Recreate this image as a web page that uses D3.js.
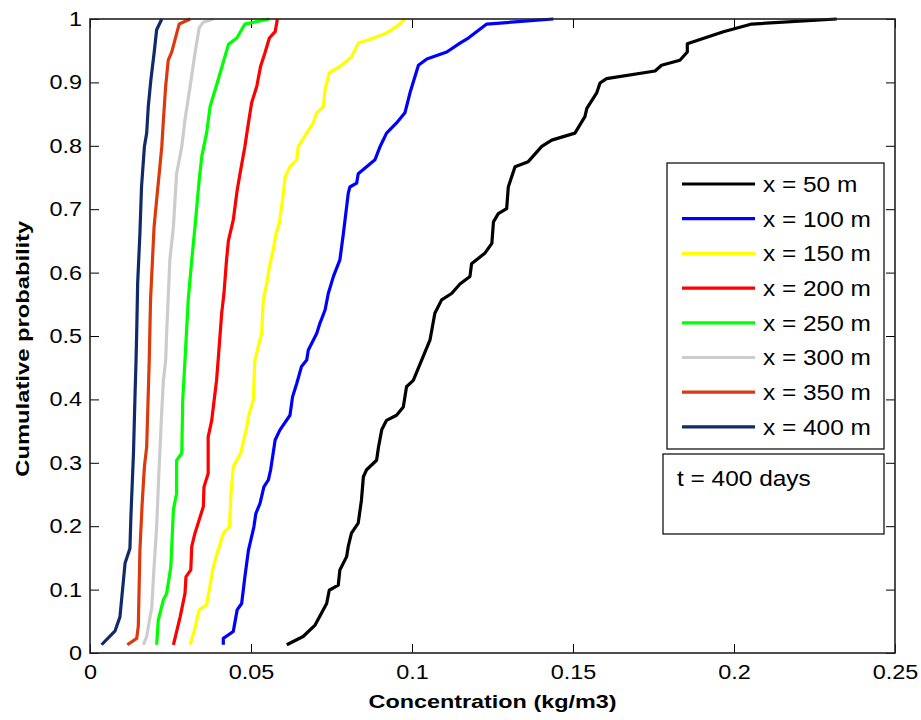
<!DOCTYPE html>
<html>
<head>
<meta charset="utf-8">
<script src="https://cdn.jsdelivr.net/npm/d3@7/dist/d3.min.js"></script>
<style>
  html, body { margin: 0; width: 100%; height: 100%; overflow: hidden; background: #fff; }
  svg { display: block; }
  text { font-family: Arial, "Liberation Sans", sans-serif; fill: #000; }
</style>
</head>
<body>
<svg id="cdf_svg" width="100%" height="100%" viewBox="0 0 921 720"></svg>
<script>
// [concentration, cumulative probability]
const s50 = [[.0611,.013],[.0662,.026],[.0699,.044],[.0735,.078],[.0743,.099],[.0771,.107],[.0776,.131],[.0797,.152],[.0802,.168],[.0812,.189],[.0833,.205],[.0843,.241],[.0849,.278],[.0859,.289],[.089,.304],[.0896,.325],[.0906,.352],[.0921,.367],[.0952,.375],[.0973,.388],[.0983,.42],[.1004,.43],[.103,.462],[.1056,.494],[.1071,.536],[.1092,.557],[.1123,.567],[.1149,.582],[.118,.594],[.1185,.614],[.1227,.631],[.1248,.646],[.1253,.68],[.1268,.693],[.1294,.701],[.1299,.735],[.132,.767],[.1361,.775],[.1403,.799],[.1434,.809],[.1506,.82],[.1537,.846],[.1543,.859],[.1574,.884],[.1584,.899],[.1604,.906],[.1755,.918],[.1775,.927],[.1832,.935],[.1855,.948],[.1855,.961],[.1967,.98],[.2055,.992],[.2319,1]];
const s100 = [[.0414,.013],[.0414,.023],[.0445,.034],[.0457,.068],[.0471,.078],[.0481,.12],[.0492,.162],[.0509,.199],[.0515,.22],[.0528,.236],[.054,.262],[.0554,.273],[.0561,.289],[.0575,.336],[.059,.352],[.0621,.375],[.0629,.404],[.0642,.425],[.0657,.452],[.0673,.462],[.0678,.478],[.0704,.504],[.0714,.52],[.073,.541],[.074,.567],[.0756,.594],[.0776,.62],[.0787,.662],[.0802,.725],[.0807,.735],[.0828,.741],[.0833,.756],[.0885,.778],[.0901,.799],[.0921,.82],[.0952,.836],[.0978,.852],[.0994,.884],[.102,.927],[.1046,.937],[.1108,.948],[.1149,.962],[.1175,.97],[.1232,.992],[.1439,1]];
const s150 = [[.0311,.013],[.0324,.035],[.0339,.068],[.0362,.076],[.0383,.136],[.0398,.162],[.0414,.189],[.0433,.199],[.0438,.252],[.0445,.294],[.0468,.315],[.0487,.357],[.0492,.373],[.0507,.399],[.0512,.462],[.0533,.504],[.0538,.557],[.0549,.583],[.0557,.609],[.0569,.636],[.0578,.662],[.0588,.678],[.0598,.715],[.0606,.751],[.0621,.767],[.0642,.778],[.0647,.799],[.0693,.836],[.0704,.852],[.0725,.862],[.073,.889],[.0743,.915],[.0781,.927],[.0812,.94],[.0833,.962],[.0864,.967],[.0921,.978],[.0952,.988],[.0978,1]];
const s200 = [[.0259,.013],[.028,.057],[.0295,.094],[.0298,.12],[.0313,.131],[.0316,.168],[.0326,.189],[.0352,.231],[.0354,.262],[.0367,.283],[.0367,.341],[.0378,.367],[.0383,.388],[.0393,.43],[.0398,.462],[.0409,.536],[.0416,.567],[.0424,.62],[.043,.651],[.0445,.683],[.0457,.73],[.0468,.762],[.0481,.799],[.0492,.836],[.0502,.868],[.0518,.894],[.053,.926],[.0543,.946],[.0557,.97],[.0575,.98],[.0582,1]];
const s250 = [[.0207,.013],[.0212,.052],[.0228,.084],[.0238,.094],[.0251,.136],[.0259,.226],[.0269,.252],[.0269,.304],[.0285,.315],[.0288,.399],[.0295,.462],[.0305,.557],[.0316,.62],[.0326,.672],[.0339,.746],[.0347,.783],[.0362,.82],[.0373,.862],[.0395,.899],[.043,.96],[.0456,.97],[.0481,.992],[.0557,1]];
const s300 = [[.0166,.013],[.0176,.026],[.0192,.073],[.0199,.136],[.0207,.199],[.0212,.262],[.0223,.383],[.0228,.43],[.0235,.462],[.0238,.504],[.0248,.62],[.0259,.672],[.0269,.756],[.0285,.799],[.0295,.841],[.0311,.894],[.0326,.946],[.0339,.986],[.0352,.995],[.0383,1]];
const s350 = [[.0116,.013],[.0145,.023],[.015,.042],[.0155,.162],[.0162,.236],[.0169,.294],[.0176,.325],[.0181,.41],[.0184,.462],[.0188,.557],[.0199,.672],[.0207,.715],[.0217,.767],[.0223,.799],[.0228,.841],[.0235,.894],[.0243,.935],[.0254,.948],[.0269,.977],[.0277,.992],[.0311,1]];
const s400 = [[.0036,.013],[.0078,.035],[.0093,.057],[.0109,.142],[.0124,.165],[.0127,.215],[.0135,.315],[.014,.41],[.0143,.462],[.0145,.505],[.0148,.583],[.0155,.662],[.016,.735],[.0169,.799],[.0176,.82],[.0181,.862],[.0189,.904],[.0199,.946],[.0207,.983],[.0223,1]];

const seriesNames = ["x = 50 m","x = 100 m","x = 150 m","x = 200 m","x = 250 m","x = 300 m","x = 350 m","x = 400 m"];
const seriesData = [s50, s100, s150, s200, s250, s300, s350, s400];
const colors = ["#000000","#0000ff","#ffff00","#ff0000","#00ff00","#cccccc","#dc3a0c","#102a6a"];

const xTicks = [0, 0.05, 0.1, 0.15, 0.2, 0.25];
const xTickLabels = ["0","0.05","0.1","0.15","0.2","0.25"];
const yTicks = [0, 0.1, 0.2, 0.3, 0.4, 0.5, 0.6, 0.7, 0.8, 0.9, 1];
const yTickLabels = ["0","0.1","0.2","0.3","0.4","0.5","0.6","0.7","0.8","0.9","1"];
const xTitle = "Concentration (kg/m3)";
const yTitle = "Cumulative probability";
const note = "t = 400 days";

const svg = d3.select("#cdf_svg");
const width = 921, height = 720;
const margin = { top: 19, left: 90, right: 26, bottom: 67 };
const innerWidth = width - margin.left - margin.right;
const innerHeight = height - margin.top - margin.bottom;
const g = svg.append("g").attr("transform", "translate(" + margin.left + "," + margin.top + ")");

const xScale = d3.scaleLinear().domain([0, 0.25]).range([0, innerWidth]);
const yScale = d3.scaleLinear().domain([0, 1]).range([innerHeight, 0]);

// the original text is a bit wider than Arial, stretch it along its run
function stretch(sel, k) {
    sel.each(function () {
        const w = this.getComputedTextLength();
        d3.select(this).attr("textLength", w * k).attr("lengthAdjust", "spacingAndGlyphs");
    });
}

// bottom / left axes with labels
const xAxis = g.append("g").attr("transform", "translate(0," + innerHeight + ")")
    .call(d3.axisBottom(xScale).tickValues(xTicks).tickFormat((d, i) => xTickLabels[i])
        .tickSizeInner(-9).tickSizeOuter(0).tickPadding(12));
const yAxis = g.append("g")
    .call(d3.axisLeft(yScale).tickValues(yTicks).tickFormat((d, i) => yTickLabels[i])
        .tickSizeInner(-9).tickSizeOuter(0).tickPadding(8));
// top / right ticks only (no labels)
const topAxis = g.append("g")
    .call(d3.axisTop(xScale).tickValues(xTicks).tickSizeInner(-9).tickSizeOuter(0));
const rightAxis = g.append("g").attr("transform", "translate(" + innerWidth + ",0)")
    .call(d3.axisRight(yScale).tickValues(yTicks).tickSizeInner(-9).tickSizeOuter(0));
topAxis.selectAll("text").remove();
rightAxis.selectAll("text").remove();

g.selectAll(".domain").remove();
g.selectAll(".tick line").attr("stroke", "#000").attr("stroke-width", 1);
g.selectAll(".tick text").attr("font-size", 20).attr("fill", "#000")
    .attr("font-family", "Arial, 'Liberation Sans', sans-serif");
stretch(g.selectAll(".tick text"), 1.17);

// curves
const line = d3.line().x(d => xScale(d[0])).y(d => yScale(d[1]));
g.selectAll(".cdf")
    .data(seriesData)
    .enter().append("path")
    .attr("class", "cdf")
    .attr("d", line)
    .attr("fill", "none")
    .attr("stroke", (d, i) => colors[i])
    .attr("stroke-width", 3.2)
    .attr("stroke-linejoin", "round");

// axes box
g.append("rect").attr("width", innerWidth).attr("height", innerHeight)
    .attr("fill", "none").attr("stroke", "#222").attr("stroke-width", 1.6);

// legend
const legend = svg.append("g").attr("transform", "translate(667,163)");
legend.append("rect").attr("width", 217).attr("height", 286)
    .attr("fill", "#fff").attr("stroke", "#000").attr("stroke-width", 1.2);
const rows = legend.selectAll(".leg").data(seriesNames).enter().append("g")
    .attr("class", "leg")
    .attr("transform", (d, i) => "translate(0," + (21 + i * 34.7) + ")");
rows.append("line").attr("x1", 15).attr("x2", 88)
    .attr("stroke", (d, i) => colors[i]).attr("stroke-width", 3.2);
rows.append("text").text(d => d)
    .attr("x", 96).attr("font-size", 22).attr("dy", "0.36em");
stretch(rows.selectAll("text"), 1.11);

// note box
const nb = svg.append("g").attr("transform", "translate(663,454)");
nb.append("rect").attr("width", 221).attr("height", 80)
    .attr("fill", "#fff").attr("stroke", "#000").attr("stroke-width", 1.2);
stretch(nb.append("text").text(note).attr("font-size", 22).attr("x", 14).attr("y", 32), 1.11);

// axis titles
stretch(svg.append("text").text(xTitle)
    .attr("font-size", 19).attr("font-weight", "bold").attr("text-anchor", "middle")
    .attr("x", margin.left + xScale(0.125)).attr("y", 708), 1.23);
stretch(svg.append("text").text(yTitle)
    .attr("font-size", 19).attr("font-weight", "bold").attr("text-anchor", "middle")
    .attr("transform", "translate(29," + (margin.top + yScale(0.48)) + ") rotate(-90)"), 1.25);
</script>
</body>
</html>
